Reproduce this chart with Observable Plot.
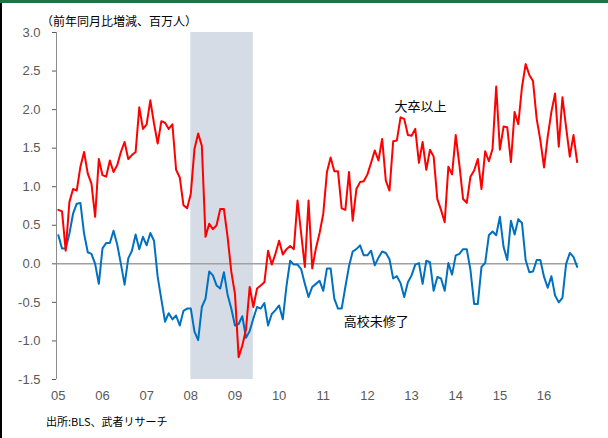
<!DOCTYPE html>
<html><head><meta charset="utf-8">
<script src="https://cdn.jsdelivr.net/npm/d3@7"></script>
<script src="https://cdn.jsdelivr.net/npm/@observablehq/plot@0.6"></script>
<style>
body{margin:0;background:#fff;}
#wrap{position:relative;width:608px;height:438px;overflow:hidden;background:#fff;}
#chart{position:absolute;left:0;top:0;}
.topbar{position:absolute;left:0;top:0;width:608px;height:3px;background:#217346;}
.leftbar{position:absolute;left:0;top:3px;width:2px;height:435px;background:#000;}
.title{position:absolute;left:41px;top:15px;font:12px "Noto Sans CJK JP",sans-serif;color:#000;line-height:1;white-space:nowrap;}
.caption{position:absolute;left:46px;top:416px;font:11px "Noto Sans CJK JP",sans-serif;color:#000;line-height:1;white-space:nowrap;}
</style></head><body>
<div id="wrap">
  <div id="chart"></div>
  <div class="topbar"></div><div class="leftbar"></div>
  <div class="title">（前年同月比増減、百万人）</div>
  <div class="caption">出所:BLS、武者リサーチ</div>
</div>
<script>
// monthly series, Jan 2005 – Oct 2016 (million persons, y/y change)
const startYear = 2005;
const college = [
  0.70, 0.68, 0.17, 0.80, 0.97, 0.95, 1.26, 1.45, 1.17, 1.04, 0.61, 1.36,
  1.15, 1.13, 1.34, 1.19, 1.28, 1.45, 1.58, 1.36, 1.41, 1.45, 2.03, 1.75,
  1.81, 2.12, 1.82, 1.56, 1.85, 1.83, 1.75, 1.81, 1.22, 1.12, 0.76, 0.72,
  0.91, 1.49, 1.69, 1.53, 0.35, 0.52, 0.45, 0.50, 0.71, 0.71, 0.35, -0.10,
  -0.39, -1.21, -1.06, -0.85, -0.30, -0.56, -0.32, -0.28, -0.24, 0.17, -0.01, 0.13,
  0.30, 0.12, 0.19, 0.23, 0.19, 0.82, 0.39, -0.04, 0.82, -0.06, 0.20, 0.40,
  0.65, 1.19, 1.38, 1.20, 1.20, 0.72, 0.70, 1.19, 0.56, 0.97, 1.06, 1.07,
  1.16, 1.31, 1.47, 1.34, 1.62, 1.08, 0.95, 1.59, 1.60, 1.90, 1.88, 1.67,
  1.66, 1.75, 1.31, 1.58, 1.22, 1.48, 1.39, 0.84, 0.70, 0.54, 1.26, 1.16,
  1.67, 1.28, 0.84, 0.79, 1.13, 1.21, 1.36, 0.97, 1.46, 1.33, 1.49, 2.30,
  1.48, 1.78, 1.77, 1.32, 1.97, 1.81, 2.29, 2.59, 2.45, 2.37, 1.88, 1.60,
  1.25, 1.65, 1.97, 2.21, 1.52, 2.16, 1.77, 1.39, 1.67, 1.32
];
const noDiploma = [
  0.37, 0.20, 0.20, 0.39, 0.65, 0.78, 0.79, 0.39, 0.15, 0.13, 0.00, -0.26,
  0.20, 0.27, 0.27, 0.43, 0.25, 0.00, -0.27, 0.07, 0.17, 0.38, 0.19, 0.35,
  0.24, 0.40, 0.30, -0.17, -0.46, -0.75, -0.64, -0.72, -0.67, -0.80, -0.61, -0.58,
  -0.58, -0.88, -0.99, -0.56, -0.45, -0.10, -0.15, -0.28, -0.32, -0.11, -0.40, -0.58,
  -0.80, -0.78, -0.68, -0.96, -0.87, -0.71, -0.56, -0.58, -0.51, -0.80, -0.65, -0.60,
  -0.54, -0.72, -0.29, 0.04, -0.01, -0.01, -0.07, -0.26, -0.43, -0.30, -0.26, -0.22,
  -0.35, -0.06, -0.06, -0.45, -0.58, -0.58, -0.30, -0.03, 0.16, 0.19, 0.24, 0.11,
  0.11, 0.17, -0.02, 0.08, 0.16, 0.14, 0.06, -0.19, -0.16, -0.25, -0.43, -0.24,
  -0.15, -0.01, 0.01, -0.26, 0.04, 0.02, -0.35, -0.17, -0.19, -0.35, 0.01, -0.14,
  0.11, 0.13, 0.19, 0.19, -0.08, -0.52, -0.52, -0.04, 0.01, 0.37, 0.42, 0.37,
  0.61, 0.22, 0.05, 0.56, 0.38, 0.58, 0.53, 0.05, -0.11, -0.10, 0.05, 0.05,
  -0.17, -0.31, -0.16, -0.41, -0.50, -0.44, 0.00, 0.14, 0.09, -0.04
];
const yearTicks = [2005, 2006, 2007, 2008, 2009, 2010, 2011, 2012, 2013, 2014, 2015, 2016];
const yTicks = [-1.5, -1.0, -0.5, 0.0, 0.5, 1.0, 1.5, 2.0, 2.5, 3.0];
const recession = [{start: 2008, end: 2009 + 5/12}];
const seriesLabels = [
  {text: "大卒以上", t: 2013.2, v: 2.04},
  {text: "高校未修了", t: 2012.2, v: -0.75}
];

const yDomain = [-1.5, 3.0];
const xDomain = [startYear - 0.5/12, startYear + (college.length - 0.5)/12];
const rows = college.map((v, i) => ({t: startYear + i/12, college: v, noDiploma: noDiploma[i]}));

const chart = Plot.plot({
  width: 608, height: 405,
  marginLeft: 56, marginRight: 29.5, marginTop: 32, marginBottom: 26,
  style: {fontFamily: "'Liberation Sans', Arial, sans-serif", fontSize: "13px", color: "#595959", background: "transparent", overflow: "visible"},
  x: {domain: xDomain, ticks: yearTicks, tickFormat: d => String(d).slice(2), tickSize: 0, tickPadding: 11, label: null},
  y: {domain: yDomain, ticks: yTicks, tickFormat: d => d.toFixed(1), tickSize: 4, tickPadding: 12, label: null},
  marks: [
    Plot.rect(recession, {x1: "start", x2: "end", y1: () => yDomain[0], y2: () => yDomain[1], fill: "#D6DCE5"}),
    Plot.ruleY([0], {stroke: "#A0A0A0", strokeWidth: 1.5}),
    Plot.ruleX([xDomain[0]], {y1: () => yDomain[0], y2: () => yDomain[1], stroke: "#8c8c8c", strokeWidth: 1}),
    Plot.line(rows, {x: "t", y: "noDiploma", stroke: "#0070C0", strokeWidth: 2}),
    Plot.line(rows, {x: "t", y: "college", stroke: "#FF0000", strokeWidth: 2}),
    Plot.text(seriesLabels, {x: "t", y: "v", text: "text", fontSize: 13, fill: "#000", fontFamily: "'Noto Sans CJK JP', sans-serif"})
  ]
});
document.getElementById("chart").appendChild(chart);
</script>
</body></html>
